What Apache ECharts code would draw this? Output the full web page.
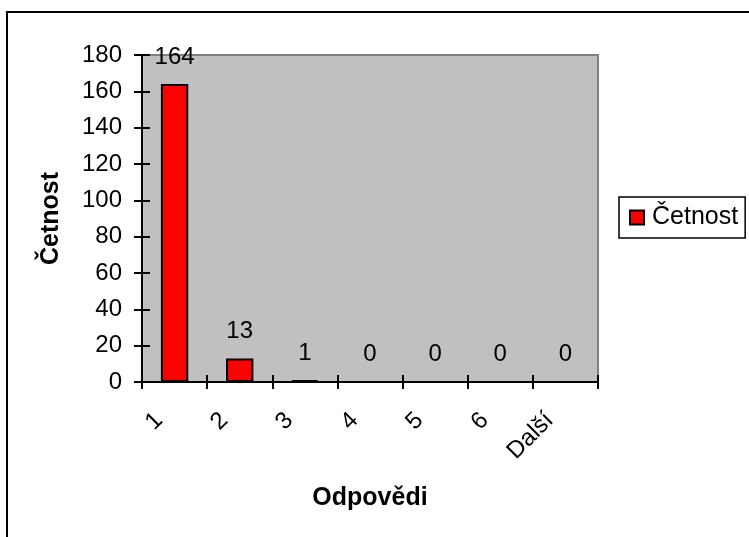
<!DOCTYPE html>
<html>
<head>
<meta charset="utf-8">
<script src="https://cdn.jsdelivr.net/npm/echarts@6/dist/echarts.min.js"></script>
<style>
  html, body { margin: 0; padding: 0; background: #ffffff; }
  #chart { width: 749px; height: 537px; }
</style>
</head>
<body>
<div id="chart"></div>
<script>
// Histogram of answers
const categories = ['1', '2', '3', '4', '5', '6', 'Další'];
const counts = [164, 13, 1, 0, 0, 0, 0];
const seriesName = 'Četnost';
const xTitle = 'Odpovědi';
const yTitle = 'Četnost';
const yMin = 0, yMax = 180, yStep = 20;

const FONT = '"Liberation Sans", Arial, sans-serif';
const gridBox = { left: 142, top: 55, right: 151, bottom: 155 };

const chart = echarts.init(document.getElementById('chart'), null, { renderer: 'canvas' });

chart.setOption({
  animation: false,
  backgroundColor: '#ffffff',
  textStyle: { fontFamily: FONT, color: '#000' },
  graphic: [{
    type: 'rect',
    shape: { x: 7, y: 12, width: 800, height: 600 },
    style: { fill: 'none', stroke: '#000', lineWidth: 2 },
    silent: true, z: -10
  }],
  legend: {
    data: [seriesName],
    left: 619, top: 197,
    orient: 'vertical',
    padding: [8, 7, 8, 10],
    itemWidth: 14, itemHeight: 14,
    icon: 'rect',
    backgroundColor: '#ffffff',
    borderColor: '#000', borderWidth: 1.5,
    textStyle: { fontSize: 25, fontFamily: FONT, color: '#000', padding: [0, 0, 0, 3] }
  },
  grid: [
    Object.assign({ show: true, backgroundColor: '#C0C0C0', borderColor: '#808080', borderWidth: 2 }, gridBox),
    Object.assign({ show: false }, gridBox)
  ],
  xAxis: [{
    type: 'category', gridIndex: 0, data: categories,
    name: xTitle, nameLocation: 'middle', nameGap: 104,
    nameTextStyle: { fontSize: 25, fontWeight: 'bold', fontFamily: FONT, color: '#000' },
    axisLine: { lineStyle: { color: '#000', width: 2 } },
    axisTick: { show: true, length: 7, lineStyle: { color: '#000', width: 2 } },
    axisLabel: { rotate: 45, margin: 19, fontSize: 24, fontFamily: FONT, color: '#000', padding: [0, 22, 0, 0] },
    splitLine: { show: false }
  }, {
    type: 'category', gridIndex: 1, data: categories, position: 'bottom',
    axisLine: { show: false },
    axisTick: { show: true, inside: true, length: 7, lineStyle: { color: '#000', width: 2 } },
    axisLabel: { show: false }, splitLine: { show: false }
  }],
  yAxis: [{
    type: 'value', gridIndex: 0, min: yMin, max: yMax, interval: yStep,
    name: yTitle, nameLocation: 'middle', nameGap: 78, nameRotate: 90,
    nameTextStyle: { fontSize: 25, fontWeight: 'bold', fontFamily: FONT, color: '#000' },
    axisLine: { show: true, lineStyle: { color: '#000', width: 2 } },
    axisTick: { show: true, length: 8, lineStyle: { color: '#000', width: 2 } },
    axisLabel: { margin: 20, fontSize: 24, fontFamily: FONT, color: '#000' },
    splitLine: { show: false }
  }, {
    type: 'value', gridIndex: 1, min: yMin, max: yMax, interval: yStep, position: 'left',
    axisLine: { show: false },
    axisTick: { show: true, inside: true, length: 8, lineStyle: { color: '#000', width: 2 } },
    axisLabel: { show: false }, splitLine: { show: false }
  }],
  series: [{
    name: seriesName,
    type: 'bar',
    xAxisIndex: 0, yAxisIndex: 0,
    data: counts,
    barWidth: '42%',
    itemStyle: { color: '#FF0000', borderColor: '#000', borderWidth: 2 },
    label: { show: true, position: 'top', distance: 15, fontSize: 24, fontFamily: FONT, color: '#000' }
  }]
});
</script>
</body>
</html>
